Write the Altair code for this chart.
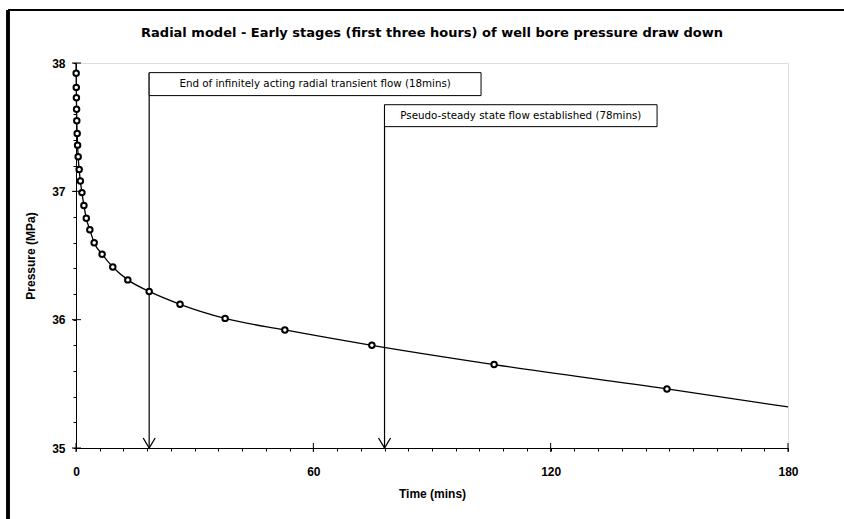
import altair as alt
import pandas as pd

# ---- data ----
time_min = [0.04, 0.07, 0.1, 0.15, 0.2, 0.3, 0.4, 0.55, 0.8, 1.1, 1.5, 2.0, 2.6,
            3.5, 4.6, 6.6, 9.3, 13.1, 18.5, 26.3, 37.7, 52.8, 74.8, 105.7, 149.4]
pressure = [37.92, 37.81, 37.73, 37.64, 37.55, 37.45, 37.36, 37.27, 37.17, 37.08,
            36.99, 36.89, 36.79, 36.70, 36.60, 36.51, 36.41, 36.31, 36.22, 36.12,
            36.01, 35.92, 35.80, 35.65, 35.46]
curve_start_t, curve_start_p = 0.0, 38.0
curve_end_t, curve_end_p = 180.0, 35.32

ann_time = [18.5, 78.0]
ann_text = ["End of infinitely acting radial transient flow (18mins)",
            "Pseudo-steady state flow established (78mins)"]
ann_box_right = [102.4, 146.9]
ann_box_top = [37.925, 37.675]
ann_box_bottom = [37.746, 37.504]

title_text = "Radial model - Early stages (first three hours) of well bore pressure draw down"

x_major = [0, 60, 120, 180]
x_ticks = [0, 6, 12, 18, 24, 30, 36, 42, 48, 54, 60, 66, 72, 78, 84, 90, 96, 102,
           108, 114, 120, 126, 132, 138, 144, 150, 156, 162, 168, 174, 180]
y_major = [35, 36, 37, 38]
y_ticks = [35.0, 35.2, 35.4, 35.6, 35.8, 36.0, 36.2, 36.4, 36.6, 36.8, 37.0,
           37.2, 37.4, 37.6, 37.8, 38.0]

FONT = "Liberation Sans"
WIDE = "DejaVu Sans"
W, H = 712, 385

pts = pd.DataFrame({"t": time_min, "p": pressure})
curve = pd.DataFrame({"t": [curve_start_t] + time_min + [curve_end_t],
                      "p": [curve_start_p] + pressure + [curve_end_p]})
ann = pd.DataFrame({"t": ann_time, "text": ann_text, "right": ann_box_right,
                    "top": ann_box_top, "bottom": ann_box_bottom})
ann["mid"] = (ann["t"] + ann["right"]) / 2
ann["ymid"] = (ann["top"] + ann["bottom"]) / 2
ann["base"] = 35.0
xm = pd.DataFrame({"t": x_major})
ym = pd.DataFrame({"p": y_major})
tt = pd.DataFrame({"title": [title_text]})

xs = alt.Scale(domain=[0, 180], nice=False, zero=False)
ys = alt.Scale(domain=[35, 38], nice=False, zero=False)

x_axis = alt.Axis(values=x_ticks, labelExpr="datum.value % 60 === 0 ? datum.label : ''",
                  title="Time (mins)", labelPadding=15, titlePadding=11, labelOverlap=False)
y_axis = alt.Axis(values=y_ticks,
                  labelExpr="abs(datum.value - round(datum.value)) < 0.001 ? format(datum.value, 'd') : ''",
                  title="Pressure (MPa)", labelPadding=8, titlePadding=14, labelOverlap=False)

line = alt.Chart(curve).mark_line(color="black", strokeWidth=1.3, interpolate="monotone").encode(
    x=alt.X("t:Q", scale=xs, axis=x_axis),
    y=alt.Y("p:Q", scale=ys, axis=y_axis),
)
points = alt.Chart(pts).mark_point(shape="circle", filled=True, color="white", stroke="black",
                                   strokeWidth=2, size=30, opacity=1).encode(
    x=alt.X("t:Q", scale=xs, axis=x_axis), y=alt.Y("p:Q", scale=ys, axis=y_axis))

vlines = alt.Chart(ann).mark_rule(color="black", strokeWidth=1.2).encode(
    x=alt.X("t:Q", scale=xs, axis=x_axis), y=alt.Y("top:Q", scale=ys, axis=y_axis), y2="base:Q")
heads = alt.Chart(ann).mark_point(shape="M-1.2,-2 L0,0 L1.2,-2", filled=False, color="black",
                                  strokeWidth=1.3, size=100, opacity=1).encode(
    x=alt.X("t:Q", scale=xs, axis=x_axis), y=alt.Y("base:Q", scale=ys, axis=y_axis))
boxes = alt.Chart(ann).mark_rect(fill="white", stroke="black", strokeWidth=1).encode(
    x=alt.X("t:Q", scale=xs, axis=x_axis), x2="right:Q",
    y=alt.Y("top:Q", scale=ys, axis=y_axis), y2="bottom:Q")
texts = alt.Chart(ann).mark_text(font=WIDE, fontSize=10.3, color="black", align="center",
                                 baseline="middle").encode(
    x=alt.X("mid:Q", scale=xs, axis=x_axis), y=alt.Y("ymid:Q", scale=ys, axis=y_axis),
    text="text:N")

# major ticks crossing the axes (inner half)
x_major_in = alt.Chart(xm).mark_rule(color="black", strokeWidth=1).encode(
    x=alt.X("t:Q", scale=xs, axis=x_axis), y=alt.value(H - 5), y2=alt.value(H + 4))
y_major_in = alt.Chart(ym).mark_rule(color="black", strokeWidth=1).encode(
    y=alt.Y("p:Q", scale=ys, axis=y_axis), x=alt.value(-4), x2=alt.value(5))

# chart title (drawn as text so that the outer frame does not push it away)
title = alt.Chart(tt).mark_text(font=WIDE, fontSize=13, fontWeight="bold", color="black",
                                align="center", baseline="middle").encode(
    x=alt.value(W / 2), y=alt.value(-30.5), text="title:N")

# outer picture frame
frame_top = alt.Chart(xm).mark_rule(color="black", strokeWidth=1.5).encode(
    x=alt.value(-68), x2=alt.value(770), y=alt.value(-53))
frame_left = alt.Chart(xm).mark_rule(color="black", strokeWidth=3).encode(
    x=alt.value(-68), y=alt.value(-53), y2=alt.value(460))

chart = alt.layer(frame_top, frame_left, title, line, vlines, heads, boxes, texts, points,
                  x_major_in, y_major_in).properties(
    width=W, height=H,
    autosize=alt.AutoSizeParams(type="none"),
    padding={"left": 76, "top": 63, "right": 56, "bottom": 71},
).configure_view(stroke="black", strokeWidth=1).configure(background="white").configure_axis(
    grid=False, tickSize=3, labelFont=FONT, titleFont=FONT, labelFontSize=12,
    titleFontSize=12, labelFontWeight="bold", titleFontWeight="bold",
    labelColor="black", titleColor="black", domainColor="black", tickColor="black",
    labelFlush=False, labelOverlap=False, labelBound=False)

chart.save("out.html", embed_options={"renderer": "svg", "actions": False})
